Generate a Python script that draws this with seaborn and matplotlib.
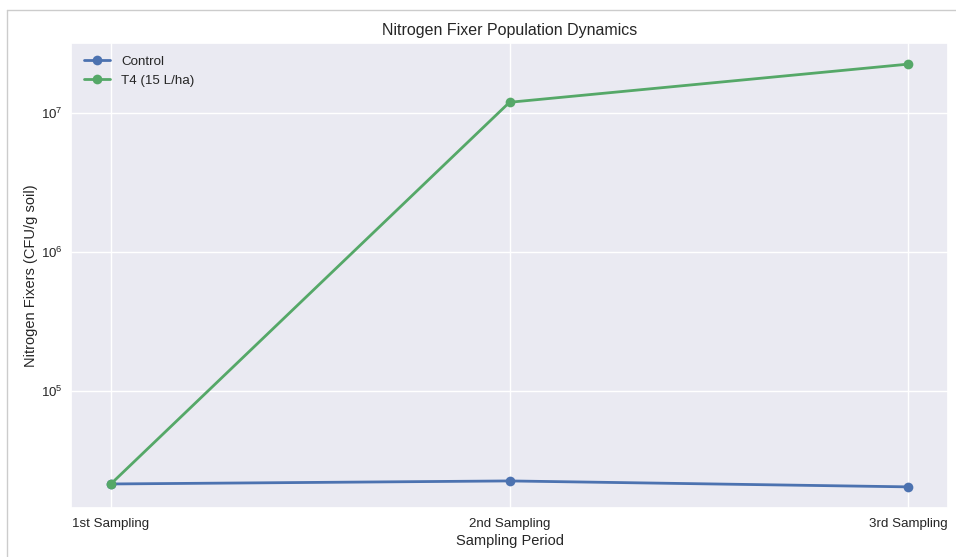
import matplotlib
matplotlib.use("Agg")
import matplotlib.pyplot as plt
import seaborn as sns
import pandas as pd
from matplotlib.lines import Line2D

periods = ["1st Sampling", "2nd Sampling", "3rd Sampling"]
control = [2.13e4, 2.24e4, 2.03e4]
t4 = [2.13e4, 1.2e7, 2.26e7]

sns.set_theme(style="darkgrid", palette="deep")
plt.rcParams['font.family'] = ['Liberation Sans', 'DejaVu Sans']

df = pd.DataFrame({
    "period": periods * 2,
    "value": control + t4,
    "series": ["Control"] * 3 + ["T4 (15 L/ha)"] * 3,
})

fig = plt.figure(figsize=(9.56, 5.57), dpi=100)
ax = fig.add_axes([71/956, 1 - 508/557, (948-71)/956, (508-43)/557])
pal = sns.color_palette("deep")
sns.lineplot(data=df, x="period", y="value", hue="series", marker="o",
             palette=[pal[0], pal[2]], linewidth=2, markersize=7,
             markeredgewidth=0, sort=False, ax=ax)
ax.set_yscale("log")
ax.set_title("Nitrogen Fixer Population Dynamics", fontsize=11.5, pad=6)
ax.set_xlabel("Sampling Period", fontsize=10.5, labelpad=3)
ax.set_ylabel("Nitrogen Fixers (CFU/g soil)", fontsize=10.5, labelpad=2)
ax.tick_params(axis="y", labelsize=9.6, pad=0)
ax.tick_params(axis="x", labelsize=9.6, pad=1)
ax.legend(loc="upper left", fontsize=9.6, title=None, frameon=False,
          handlelength=2.0, labelspacing=0.5, borderaxespad=0.55)

fig.add_artist(Line2D([7/956, 1], [1 - 10/557, 1 - 10/557], color="#cccccc", lw=1))
fig.add_artist(Line2D([7/956, 7/956], [0, 1 - 10/557], color="#cccccc", lw=1))

fig.savefig("out.png", dpi=100)
